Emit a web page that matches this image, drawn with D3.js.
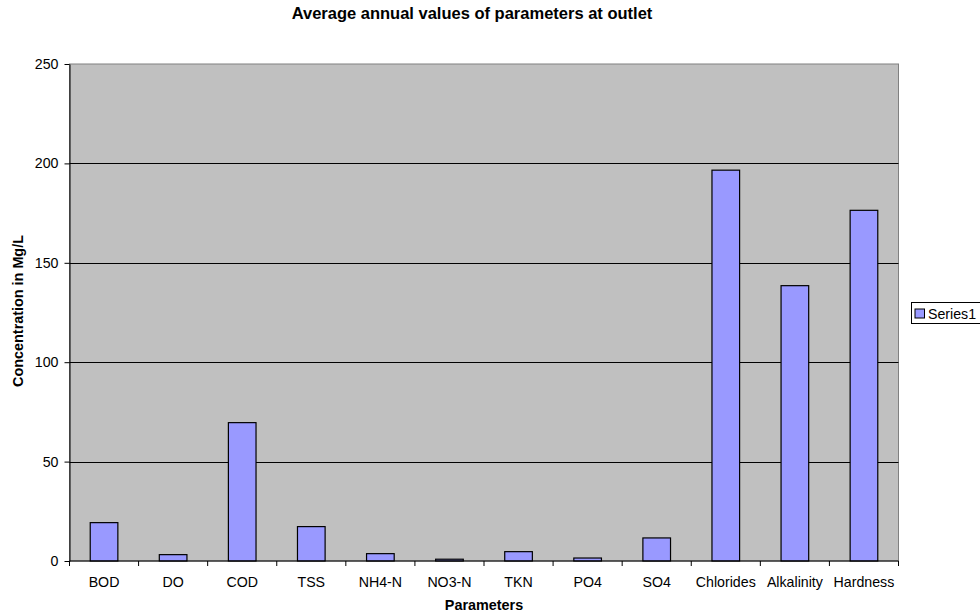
<!DOCTYPE html>
<html>
<head>
<meta charset="utf-8">
<script src="https://cdn.jsdelivr.net/npm/d3@7"></script>
<style>
  html, body { margin: 0; padding: 0; background: #fff; }
  svg { display: block; font-family: "Liberation Sans", Arial, sans-serif; }
</style>
</head>
<body>
<svg id="chart" width="980" height="613"></svg>
<script>
// Average annual concentrations (mg/L) per parameter
const categories = ["BOD", "DO", "COD", "TSS", "NH4-N", "NO3-N", "TKN", "PO4", "SO4", "Chlorides", "Alkalinity", "Hardness"];
const series1 = [19.3, 3.2, 69.6, 17.3, 3.7, 0.9, 4.7, 1.5, 11.6, 196.6, 138.5, 176.4];
const yTicks = [0, 50, 100, 150, 200, 250];
const seriesName = "Series1";

const svg = d3.select("#chart");
const plot = { left: 69.5, right: 898.5, top: 64, bottom: 561 };

const x = d3.scaleBand().domain(categories).range([plot.left, plot.right]).paddingInner(0).paddingOuter(0);
const y = d3.scaleLinear().domain([0, 250]).range([plot.bottom, plot.top]);

// Plot area background
svg.append("rect")
  .attr("x", plot.left).attr("y", plot.top)
  .attr("width", plot.right - plot.left).attr("height", plot.bottom - plot.top)
  .attr("fill", "#c0c0c0").attr("stroke", "#808080").attr("stroke-width", 1);

// Horizontal gridlines
svg.append("g").selectAll("line").data(yTicks.filter(d => d > 0 && d < 250)).join("line")
  .attr("x1", plot.left).attr("x2", plot.right)
  .attr("y1", d => Math.round(y(d)) + 0.5).attr("y2", d => Math.round(y(d)) + 0.5)
  .attr("stroke", "#000").attr("stroke-width", 1);

// Bars
const barW = x.bandwidth() / 2.5;
svg.append("g").selectAll("rect").data(categories).join("rect")
  .attr("x", d => x(d) + (x.bandwidth() - barW) / 2)
  .attr("y", (d, i) => y(series1[i]))
  .attr("width", barW)
  .attr("height", (d, i) => y(0) - y(series1[i]))
  .attr("fill", "#9999ff").attr("stroke", "#000").attr("stroke-width", 1.2);

// Y axis
const yAxis = d3.axisLeft(y).tickValues(yTicks).tickSize(5).tickPadding(6).tickSizeOuter(0);
const gy = svg.append("g").attr("transform", `translate(${plot.left},0)`).call(yAxis);
gy.select(".domain").attr("stroke", "#000");
gy.selectAll("line").attr("stroke", "#000");
gy.selectAll("text").attr("font-size", 14.2).attr("fill", "#000")
  .attr("font-family", "Liberation Sans, Arial, sans-serif");

// X axis: ticks at band boundaries, labels centred in bands
const gx = svg.append("g");
gx.append("line")
  .attr("x1", plot.left).attr("x2", plot.right)
  .attr("y1", plot.bottom).attr("y2", plot.bottom)
  .attr("stroke", "#000");
const boundaries = categories.map(d => x(d)).concat([plot.right]);
gx.selectAll("line.tick").data(boundaries).join("line").attr("class", "tick")
  .attr("x1", d => d).attr("x2", d => d)
  .attr("y1", plot.bottom).attr("y2", plot.bottom + 5)
  .attr("stroke", "#000");
gx.selectAll("text").data(categories).join("text")
  .attr("x", d => x(d) + x.bandwidth() / 2)
  .attr("y", 586.5)
  .attr("text-anchor", "middle")
  .attr("font-size", 14.2).attr("fill", "#000")
  .text(d => d);

// Titles
svg.append("text").attr("x", 472).attr("y", 18.5).attr("text-anchor", "middle")
  .attr("font-size", 16.5).attr("font-weight", "bold").text("Average annual values of parameters at outlet");
svg.append("text").attr("x", (plot.left + plot.right) / 2).attr("y", 610).attr("text-anchor", "middle")
  .attr("font-size", 14.4).attr("font-weight", "bold").text("Parameters");
svg.append("text").attr("transform", "translate(23,311) rotate(-90)").attr("text-anchor", "middle")
  .attr("font-size", 14.4).attr("font-weight", "bold").text("Concentration in Mg/L");

// Legend
const lg = svg.append("g").attr("transform", "translate(911,302)");
lg.append("rect").attr("x", 0.5).attr("y", 0.5).attr("width", 80).attr("height", 21)
  .attr("fill", "#fff").attr("stroke", "#000");
lg.append("rect").attr("x", 4).attr("y", 7).attr("width", 9.5).attr("height", 9)
  .attr("fill", "#9999ff").attr("stroke", "#000");
lg.append("text").attr("x", 17).attr("y", 16.5).attr("font-size", 14.2).text(seriesName);
</script>
</body>
</html>
